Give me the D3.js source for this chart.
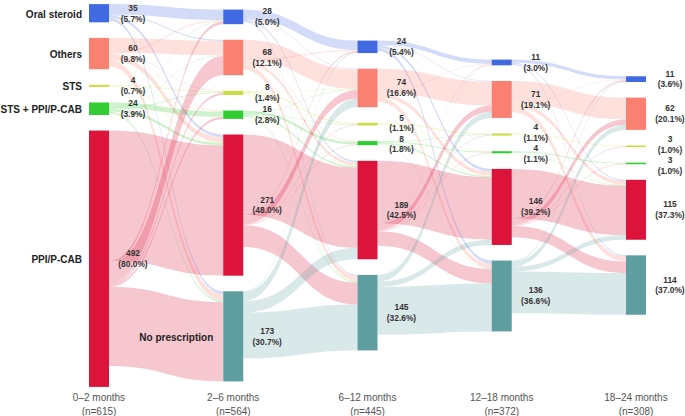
<!DOCTYPE html>
<html>
<head>
<meta charset="utf-8">
<script src="https://cdn.jsdelivr.net/npm/d3@7"></script>
<style>
  body { margin: 0; background: #fff; }
  svg { display: block; }
</style>
</head>
<body>
<script>
var w = 685;
var h = 416;

var categories = ["Oral steroid", "Others", "STS", "STS + PPI/P-CAB", "PPI/P-CAB", "No prescription"];
var colors = ["#4169e1", "#fa8072", "#cbdc45", "#32cd32", "#dc143c", "#5f9ea0"];
var periods = ["0\u20132 months", "2\u20136 months", "6\u201312 months", "12\u201318 months", "18\u201324 months"];
var totals = [615, 564, 445, 372, 308];

// patients per category in each period (same order as categories)
var counts = [
  [35, 60, 4, 24, 492, 0],
  [28, 68, 8, 16, 271, 173],
  [24, 74, 5, 8, 189, 145],
  [11, 71, 4, 4, 146, 136],
  [11, 62, 3, 3, 115, 114]
];

// transitions between consecutive periods, rows = from, cols = to (estimated)
var flows01 = [
  [20, 2, 0, 0, 5, 5],
  [2, 28, 1, 1, 10, 13],
  [0, 0, 2, 1, 1, 0],
  [1, 1, 1, 10, 5, 3],
  [5, 37, 4, 4, 250, 152],
  [0, 0, 0, 0, 0, 0]
];
var flows12 = [
  [18, 1, 0, 0, 3, 2],
  [2, 38, 0, 1, 6, 10],
  [0, 1, 3, 1, 1, 1],
  [0, 1, 1, 5, 3, 2],
  [2, 16, 1, 1, 154, 42],
  [2, 17, 0, 0, 22, 88]
];
var flows23 = [
  [8, 1, 0, 0, 5, 6],
  [1, 46, 0, 0, 8, 9],
  [0, 0, 2, 1, 1, 0],
  [0, 0, 1, 2, 2, 1],
  [1, 12, 1, 1, 120, 28],
  [1, 12, 0, 0, 10, 92]
];
var flows34 = [
  [6, 0, 0, 0, 2, 2],
  [1, 42, 0, 0, 7, 10],
  [0, 0, 2, 0, 1, 0],
  [0, 0, 0, 2, 1, 0],
  [2, 10, 1, 1, 95, 22],
  [2, 10, 0, 0, 9, 80]
];
var transitions = [flows01, flows12, flows23, flows34];

var nodeW = 20;
var gap = 15.6;
var midY = 195.5;
var font = "'Liberation Sans', Arial, sans-serif";

var k = d3.scaleLinear().domain([0, 615]).range([0, 320.4]);
var xCol = d3.scaleLinear().domain([0, periods.length - 1]).range([89, 626]);

var svg = d3.select("body").append("svg").attr("width", w).attr("height", h);

// node layout: each column centred vertically
var nodes = counts.map(function (col, c) {
  var list = [];
  col.forEach(function (v, i) {
    if (v > 0) list.push({ col: c, cat: i, value: v });
  });
  var total = d3.sum(list, function (d) { return k(d.value); }) + gap * (list.length - 1);
  var y = midY - total / 2;
  list.forEach(function (d) {
    d.x0 = xCol(c);
    d.x1 = d.x0 + nodeW;
    d.y0 = y;
    d.y1 = y + k(d.value);
    y = d.y1 + gap;
  });
  return list;
});

function findNode(c, cat) {
  return nodes[c].filter(function (d) { return d.cat === cat; })[0];
}

// links
var links = [];
transitions.forEach(function (m, t) {
  var tl = [];
  m.forEach(function (row, i) {
    row.forEach(function (v, j) {
      if (v > 0) tl.push({ s: findNode(t, i), t: findNode(t + 1, j), si: i, ti: j, value: v });
    });
  });
  // stacking at the source: staying category first, then by target
  nodes[t].forEach(function (n) {
    var y = n.y0;
    tl.filter(function (l) { return l.s === n; })
      .sort(function (a, b) {
        var ka = (a.ti === a.si && a.si !== 5) ? -1 : a.ti;
        var kb = (b.ti === b.si && b.si !== 5) ? -1 : b.ti;
        return ka - kb;
      })
      .forEach(function (l) { l.sy0 = y; y += k(l.value); l.sy1 = y; });
  });
  // stacking at the target: by source
  nodes[t + 1].forEach(function (n) {
    var y = n.y0;
    tl.filter(function (l) { return l.t === n; })
      .sort(function (a, b) { return a.si - b.si; })
      .forEach(function (l) { l.ty0 = y; y += k(l.value); l.ty1 = y; });
  });
  links = links.concat(tl);
});

function band(l) {
  var x0 = l.s.x1, x1 = l.t.x0, xm = (x0 + x1) / 2;
  return "M" + x0 + "," + l.sy0 +
    "C" + xm + "," + l.sy0 + " " + xm + "," + l.ty0 + " " + x1 + "," + l.ty0 +
    "L" + x1 + "," + l.ty1 +
    "C" + xm + "," + l.ty1 + " " + xm + "," + l.sy1 + " " + x0 + "," + l.sy1 + "Z";
}

svg.append("g")
  .selectAll("path")
  .data(links)
  .enter()
  .append("path")
  .attr("d", band)
  .attr("fill", function (d) { return colors[d.si]; })
  .attr("fill-opacity", 0.24);

var allNodes = [].concat.apply([], nodes);

svg.append("g")
  .selectAll("rect")
  .data(allNodes)
  .enter()
  .append("rect")
  .attr("x", function (d) { return d.x0; })
  .attr("y", function (d) { return d.y0; })
  .attr("width", nodeW)
  .attr("height", function (d) { return Math.max(1.5, d.y1 - d.y0); })
  .attr("fill", function (d) { return colors[d.cat]; });

// value labels, pushed apart a little where nodes sit close together
var vl = svg.append("g")
  .attr("font-family", font)
  .attr("font-size", 8.4)
  .attr("font-weight", "bold")
  .attr("fill", "#333")
  .attr("text-anchor", "middle");

nodes.forEach(function (col) {
  var ly = col.map(function (d) { return (d.y0 + d.y1) / 2; });
  for (var i = 1; i < ly.length; i++) {
    var diff = ly[i] - ly[i - 1];
    if (diff < 21) {
      ly[i - 1] -= (21 - diff) / 2;
      ly[i] += (21 - diff) / 2;
    }
  }
  col.forEach(function (d, i) {
    var cx = d.x1 + 24;
    vl.append("text").attr("x", cx).attr("y", ly[i] - 2.5).text(d.value);
    vl.append("text").attr("x", cx).attr("y", ly[i] + 8.3)
      .text("(" + (d.value / totals[d.col] * 100).toFixed(1) + "%)");
  });
});

// category labels at first appearance
var cl = svg.append("g")
  .attr("font-family", font)
  .attr("font-size", 10)
  .attr("font-weight", "bold")
  .attr("fill", "#222")
  .attr("text-anchor", "end");

categories.forEach(function (name, i) {
  var n = null;
  for (var c = 0; c < nodes.length && !n; c++) n = findNode(c, i);
  if (!n) return;
  cl.append("text")
    .attr("x", n.x0 - (n.col === 0 ? 7 : 10))
    .attr("y", (n.y0 + n.y1) / 2 + 4.5)
    .text(name);
});

// period labels
var pl = svg.append("g")
  .attr("font-family", font)
  .attr("font-size", 10)
  .attr("fill", "#555")
  .attr("text-anchor", "middle");

periods.forEach(function (p, c) {
  var cx = xCol(c) + nodeW / 2;
  pl.append("text").attr("x", cx).attr("y", 401).text(p);
  pl.append("text").attr("x", cx).attr("y", 415).text("(n=" + totals[c] + ")");
});
</script>
</body>
</html>
